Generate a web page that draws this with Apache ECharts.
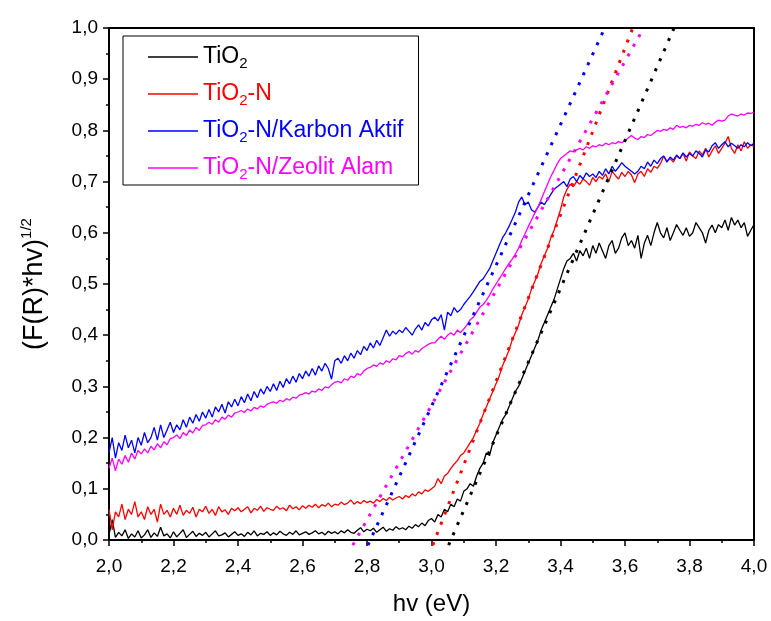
<!DOCTYPE html>
<html><head><meta charset="utf-8">
<script src="https://cdn.jsdelivr.net/npm/echarts@6/dist/echarts.min.js"></script>
<style>html,body{margin:0;padding:0;background:#fff}#c{width:771px;height:621px}</style>
</head><body><div id="c"></div>
<script>
// photon energy grid: 2.00 .. 4.00 eV, step 0.01
const hvStart = 2.0, hvStep = 0.01;
const tio2 = [0.01,0.04,0.005,0.015,0.008,0.02,0.003,0.012,0.006,0.018,0.004,
0.01,0.02,0.005,0.014,0.007,0.025,0.008,0.012,0.004,0.016,
0.006,0.013,0.02,0.005,0.011,0.017,0.007,0.013,0.009,0.015,
0.006,0.012,0.018,0.008,0.01,0.014,0.006,0.011,0.016,0.009,
0.012,0.007,0.015,0.01,0.018,0.008,0.013,0.011,0.016,0.009,
0.014,0.01,0.017,0.012,0.009,0.015,0.011,0.018,0.01,0.013,
0.016,0.011,0.014,0.018,0.012,0.015,0.01,0.017,0.013,0.016,
0.012,0.018,0.014,0.02,0.015,0.013,0.019,0.024,0.016,0.021,
0.018,0.023,0.015,0.02,0.025,0.017,0.022,0.019,0.026,0.021,
0.024,0.02,0.027,0.023,0.03,0.026,0.033,0.028,0.038,0.042,
0.035,0.05,0.045,0.06,0.055,0.07,0.065,0.08,0.076,0.095,
0.1,0.11,0.105,0.125,0.14,0.15,0.17,0.165,0.19,0.205,
0.22,0.235,0.245,0.26,0.275,0.29,0.3,0.315,0.33,0.345,
0.36,0.375,0.39,0.41,0.425,0.44,0.455,0.47,0.49,0.51,
0.53,0.545,0.55,0.56,0.545,0.565,0.555,0.57,0.55,0.575,
0.56,0.58,0.565,0.55,0.575,0.585,0.56,0.57,0.59,0.6,
0.575,0.585,0.57,0.595,0.55,0.58,0.595,0.575,0.6,0.62,
0.6,0.59,0.61,0.585,0.6,0.616,0.605,0.595,0.61,0.593,
0.6,0.62,0.61,0.6,0.58,0.605,0.615,0.6,0.616,0.61,
0.625,0.605,0.63,0.615,0.625,0.61,0.62,0.593,0.605,0.616];
const tio2N = [0.06,0.02,0.055,0.045,0.07,0.04,0.06,0.05,0.075,0.045,0.055,
0.04,0.065,0.05,0.06,0.035,0.07,0.05,0.058,0.045,0.062,
0.05,0.068,0.048,0.058,0.052,0.064,0.045,0.06,0.055,0.066,
0.052,0.06,0.048,0.065,0.055,0.059,0.05,0.062,0.057,0.063,
0.055,0.06,0.065,0.053,0.062,0.058,0.066,0.056,0.063,0.06,
0.058,0.066,0.06,0.063,0.057,0.068,0.061,0.065,0.059,0.067,
0.062,0.068,0.064,0.07,0.063,0.069,0.066,0.072,0.065,0.07,
0.068,0.074,0.069,0.072,0.078,0.07,0.075,0.071,0.077,0.073,
0.076,0.072,0.079,0.075,0.081,0.077,0.083,0.078,0.082,0.085,
0.08,0.087,0.083,0.09,0.086,0.094,0.09,0.098,0.095,0.1,
0.105,0.12,0.11,0.125,0.13,0.14,0.148,0.155,0.165,0.17,
0.18,0.19,0.2,0.215,0.228,0.245,0.26,0.275,0.29,0.305,
0.32,0.34,0.355,0.37,0.39,0.405,0.42,0.44,0.455,0.47,
0.49,0.505,0.52,0.54,0.555,0.57,0.59,0.605,0.625,0.645,
0.67,0.685,0.695,0.69,0.7,0.695,0.705,0.7,0.693,0.708,
0.7,0.71,0.705,0.715,0.7,0.72,0.712,0.705,0.718,0.71,
0.72,0.713,0.698,0.715,0.72,0.71,0.725,0.718,0.73,0.726,
0.735,0.75,0.74,0.745,0.738,0.75,0.745,0.755,0.74,0.758,
0.75,0.745,0.76,0.752,0.765,0.748,0.76,0.77,0.755,0.765,
0.775,0.788,0.765,0.755,0.772,0.76,0.778,0.765,0.772,0.768];
const tio2NKarbon = [0.17,0.2,0.16,0.19,0.175,0.205,0.18,0.195,0.17,0.2,0.185,
0.21,0.19,0.2,0.22,0.195,0.225,0.2,0.215,0.23,0.21,
0.225,0.215,0.235,0.22,0.24,0.228,0.245,0.232,0.25,0.238,
0.255,0.24,0.26,0.25,0.265,0.248,0.27,0.26,0.275,0.262,
0.28,0.268,0.285,0.272,0.29,0.278,0.295,0.285,0.3,0.29,
0.305,0.292,0.31,0.298,0.315,0.305,0.32,0.308,0.325,0.315,
0.33,0.32,0.335,0.322,0.34,0.33,0.345,0.335,0.314,0.35,
0.355,0.345,0.36,0.35,0.365,0.355,0.37,0.362,0.378,0.37,
0.385,0.375,0.39,0.38,0.395,0.41,0.398,0.408,0.402,0.41,
0.405,0.415,0.408,0.4,0.412,0.42,0.41,0.425,0.418,0.43,
0.435,0.428,0.44,0.41,0.445,0.438,0.454,0.445,0.45,0.46,
0.468,0.476,0.485,0.495,0.505,0.51,0.52,0.53,0.545,0.56,
0.575,0.59,0.6,0.612,0.626,0.64,0.66,0.67,0.655,0.66,
0.645,0.64,0.65,0.66,0.655,0.665,0.675,0.685,0.69,0.695,
0.7,0.69,0.705,0.71,0.7,0.712,0.705,0.717,0.71,0.715,
0.708,0.72,0.712,0.725,0.715,0.73,0.72,0.728,0.737,0.73,
0.725,0.72,0.715,0.72,0.73,0.725,0.738,0.73,0.742,0.735,
0.745,0.75,0.738,0.748,0.742,0.752,0.745,0.756,0.748,0.755,
0.75,0.76,0.755,0.748,0.762,0.758,0.77,0.776,0.765,0.772,
0.778,0.768,0.775,0.77,0.765,0.772,0.768,0.776,0.77,0.775];
const tio2NZeolit = [0.14,0.16,0.135,0.158,0.148,0.165,0.152,0.17,0.158,0.175,0.168,
0.178,0.17,0.183,0.176,0.188,0.18,0.192,0.186,0.198,0.2,
0.205,0.198,0.21,0.204,0.215,0.209,0.22,0.214,0.224,0.225,
0.23,0.226,0.235,0.23,0.24,0.236,0.244,0.24,0.248,0.25,
0.253,0.249,0.256,0.252,0.259,0.256,0.262,0.259,0.265,0.268,
0.27,0.267,0.273,0.27,0.276,0.273,0.279,0.277,0.283,0.285,
0.288,0.285,0.291,0.289,0.295,0.292,0.299,0.297,0.303,0.308,
0.31,0.307,0.315,0.312,0.32,0.317,0.325,0.322,0.33,0.335,
0.337,0.342,0.339,0.346,0.343,0.35,0.347,0.354,0.352,0.36,
0.358,0.364,0.368,0.363,0.37,0.367,0.374,0.378,0.382,0.385,
0.385,0.392,0.398,0.392,0.4,0.405,0.4,0.41,0.405,0.412,
0.42,0.43,0.435,0.445,0.455,0.46,0.468,0.478,0.49,0.5,
0.51,0.52,0.53,0.54,0.548,0.558,0.57,0.585,0.598,0.612,
0.625,0.638,0.65,0.665,0.68,0.695,0.71,0.722,0.735,0.745,
0.75,0.755,0.76,0.758,0.762,0.765,0.762,0.768,0.765,0.77,
0.768,0.772,0.77,0.775,0.772,0.776,0.774,0.778,0.776,0.78,
0.785,0.79,0.785,0.782,0.788,0.786,0.792,0.79,0.795,0.8,
0.798,0.802,0.8,0.805,0.802,0.81,0.806,0.808,0.805,0.81,
0.808,0.812,0.81,0.815,0.812,0.814,0.81,0.816,0.82,0.818,
0.82,0.828,0.832,0.83,0.828,0.832,0.83,0.834,0.833,0.836];
// tangent (Tauc extrapolation) line end points [hv, value]
const tanTiO2 = [[3.053,-0.01],[3.752,1.0]];
const tanTiO2N = [[3.004,-0.01],[3.624,1.0]];
const tanKarbon = [[2.803,-0.01],[3.537,1.0]];
const tanZeolit = [[2.756,-0.01],[3.658,1.0]];
const xTickLabels = ['2,0','2,2','2,4','2,6','2,8','3,0','3,2','3,4','3,6','3,8','4,0'];
const yTickLabels = ['0,0','0,1','0,2','0,3','0,4','0,5','0,6','0,7','0,8','0,9','1,0'];
const seriesNames = ['TiO2','TiO2-N','TiO2-N/Karbon Aktif','TiO2-N/Zeolit Alam'];
const seriesColors = ['#000000','#ff0000','#0000ff','#ff00ff'];

function pairs(vals){ return vals.map((v,i)=>[+(hvStart+i*hvStep).toFixed(2), v]); }
const FONT = '"Liberation Sans", Arial, sans-serif';
const chart = echarts.init(document.getElementById('c'));
const curves = [tio2, tio2N, tio2NKarbon, tio2NZeolit];
const tans = [tanTiO2, tanTiO2N, tanKarbon, tanZeolit];
const series = [];
curves.forEach((d,k)=>series.push({
  name: seriesNames[k], type:'line', data: pairs(d), symbol:'none', showSymbol:false,
  lineStyle:{color:seriesColors[k], width:1.3}, itemStyle:{color:seriesColors[k]}, animation:false, z:2
}));
tans.forEach((d,k)=>series.push({
  name: 'tangent'+k, type:'line', data: d, symbol:'none', clip:false,
  lineStyle:{color:seriesColors[k], width:3, type:[3,8], cap:'butt'}, animation:false, z:3
}));
chart.setOption({
  backgroundColor:'#fff',
  animation:false,
  grid:{left:109, right:17, top:28, bottom:80},
  legend:{
    orient:'vertical', left:123, top:36,
    data: seriesNames.map((n,k)=>({name:n, textStyle:{color:seriesColors[k]}})),
    icon:'rect',
    borderColor:'#000', borderWidth:1, padding:[9,15,3,25],
    itemWidth:50, itemHeight:1.5, itemGap:11,
    formatter: n => n.replace('TiO2','TiO{s|2}'),
    textStyle:{fontFamily:FONT, fontSize:23, lineHeight:24,
      rich:{s:{fontFamily:FONT, fontSize:15, padding:[13,0,0,0]}}}
  },
  xAxis:[{
    type:'value', min:2, max:4, interval:0.2, position:'bottom',
    name:'hv (eV)', nameLocation:'middle', nameGap:52,
    nameTextStyle:{fontFamily:FONT, fontSize:24, color:'#000'},
    axisLine:{show:true, onZero:false, lineStyle:{color:'#000', width:2}},
    axisTick:{show:true, inside:false, length:6, lineStyle:{color:'#000', width:1.5}},
    minorTick:{show:true, splitNumber:2, length:3, lineStyle:{color:'#000', width:1.5}},
    axisLabel:{fontFamily:FONT, fontSize:19, color:'#000', margin:17,
      formatter:(v)=>xTickLabels[Math.round((v-2)/0.2)]},
    splitLine:{show:false}
  },{
    type:'value', min:2, max:4, interval:0.2, position:'top',
    axisLine:{show:true, onZero:false, lineStyle:{color:'#000', width:2}},
    axisTick:{show:false}, axisLabel:{show:false}, splitLine:{show:false}
  }],
  yAxis:[{
    type:'value', min:0, max:1, interval:0.1, position:'left',
    name:'(F(R)*hv){p|1/2}', nameLocation:'middle', nameGap:58,
    nameTextStyle:{fontFamily:FONT, fontSize:27, color:'#000',
      rich:{p:{fontFamily:FONT, fontSize:15, padding:[0,0,17,0]}}},
    axisLine:{show:true, onZero:false, lineStyle:{color:'#000', width:2}},
    axisTick:{show:true, inside:false, length:6, lineStyle:{color:'#000', width:1.5}},
    minorTick:{show:true, splitNumber:2, length:3, lineStyle:{color:'#000', width:1.5}},
    axisLabel:{fontFamily:FONT, fontSize:19, color:'#000', margin:11,
      formatter:(v)=>yTickLabels[Math.round(v*10)]},
    splitLine:{show:false}
  },{
    type:'value', min:0, max:1, interval:0.1, position:'right',
    axisLine:{show:true, onZero:false, lineStyle:{color:'#000', width:2}},
    axisTick:{show:false}, axisLabel:{show:false}, splitLine:{show:false}
  }],
  series: series
});
</script></body></html>
